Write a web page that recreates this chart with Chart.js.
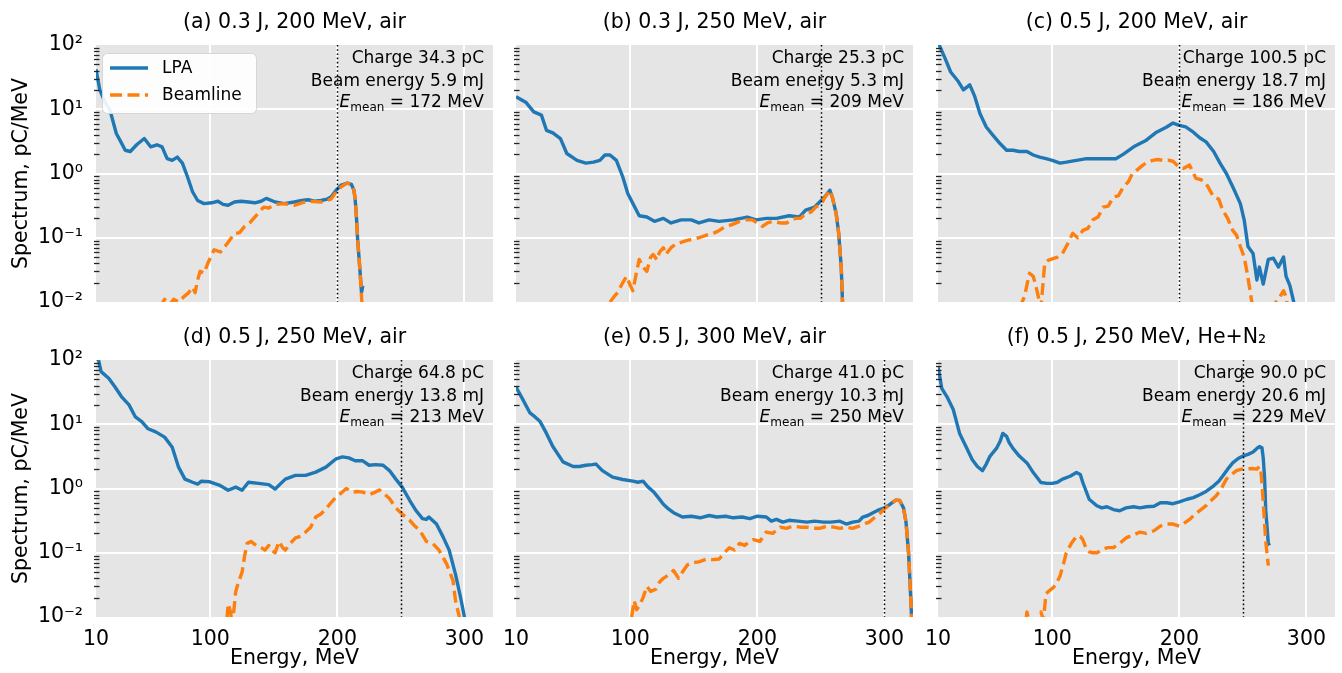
<!DOCTYPE html>
<html>
<head>
<meta charset="utf-8">
<script src="https://cdn.jsdelivr.net/npm/chart.js@4.4.1/dist/chart.umd.min.js"></script>
<style>
  html, body { margin: 0; padding: 0; background: #fff; width: 1342px; height: 673px; overflow: hidden; }
  canvas.panel { position: absolute; }
</style>
</head>
<body>
<script>
// ---- data (energy in MeV, spectrum in pC/MeV) ----
const lpaA_E = [10, 13, 17, 21, 26, 30, 33, 37, 42, 48, 53, 58, 62, 66, 70, 74, 78, 82, 86, 90, 95, 101, 106, 110, 114, 119, 124, 130, 135, 140, 144, 151, 158, 166, 172, 177, 182, 187, 192, 195, 199, 203, 208, 211, 213, 214, 215, 216, 217, 218, 219, 220];
const lpaA_S = [42, 20, 13, 9.7, 4.2, 3.0, 2.3, 2.2, 2.8, 3.5, 2.6, 2.8, 2.6, 1.7, 1.6, 1.8, 1.45, 0.89, 0.52, 0.38, 0.34, 0.35, 0.37, 0.33, 0.32, 0.36, 0.37, 0.36, 0.35, 0.37, 0.41, 0.36, 0.34, 0.36, 0.38, 0.39, 0.37, 0.38, 0.40, 0.43, 0.55, 0.66, 0.71, 0.68, 0.55, 0.40, 0.21, 0.09, 0.05, 0.027, 0.014, 0.018];
const beamA_E = [60, 64, 68, 71, 75, 79, 83, 86, 88, 90, 92, 95, 98, 103, 108, 113, 119, 123, 127, 131, 135, 142, 146, 151, 158, 166, 172, 177, 187, 195, 200, 203, 206, 208, 211, 213, 214, 215, 216, 217, 218, 219, 220];
const beamA_S = [0.008, 0.011, 0.009, 0.011, 0.010, 0.012, 0.014, 0.017, 0.014, 0.022, 0.03, 0.028, 0.04, 0.065, 0.06, 0.08, 0.116, 0.12, 0.15, 0.17, 0.21, 0.30, 0.29, 0.33, 0.34, 0.32, 0.35, 0.37, 0.36, 0.40, 0.55, 0.62, 0.68, 0.71, 0.68, 0.55, 0.40, 0.21, 0.09, 0.05, 0.027, 0.012, 0.006];

const lpaB_E = [10, 18, 24, 30, 34, 39, 45, 50, 58, 65, 71, 76, 80, 84, 89, 94, 98, 102, 107, 113, 119, 126, 132, 140, 148, 154, 162, 170, 181, 192, 199, 207, 215, 225, 233, 238, 245, 249, 253, 257, 259, 262, 264, 266, 267, 268];
const lpaB_S = [15.7, 12.7, 9.1, 8.1, 4.7, 4.3, 3.5, 2.05, 1.6, 1.45, 1.5, 1.6, 1.94, 1.94, 1.6, 0.89, 0.49, 0.34, 0.22, 0.21, 0.18, 0.2, 0.17, 0.19, 0.19, 0.17, 0.19, 0.18, 0.19, 0.21, 0.19, 0.2, 0.2, 0.22, 0.21, 0.27, 0.3, 0.36, 0.43, 0.55, 0.43, 0.24, 0.118, 0.035, 0.01, 0.005];
const beamB_E = [84, 87, 90, 94, 97, 100, 102, 105, 107, 110, 113, 116, 118, 121, 123, 126, 128, 132, 136, 140, 144, 149, 154, 160, 165, 170, 175, 180, 186, 191, 196, 200, 204, 208, 212, 218, 223, 227, 230, 234, 238, 242, 246, 250, 253, 257, 259, 262, 264, 266, 267, 268];
const beamB_S = [0.01, 0.012, 0.014, 0.02, 0.025, 0.018, 0.015, 0.03, 0.046, 0.035, 0.03, 0.05, 0.055, 0.045, 0.06, 0.07, 0.055, 0.07, 0.08, 0.085, 0.09, 0.095, 0.1, 0.11, 0.116, 0.13, 0.15, 0.16, 0.18, 0.19, 0.19, 0.17, 0.15, 0.17, 0.18, 0.17, 0.17, 0.19, 0.2, 0.2, 0.24, 0.25, 0.3, 0.33, 0.42, 0.55, 0.43, 0.24, 0.118, 0.035, 0.01, 0.005];

const lpaC_E = [10, 15, 20, 26, 30, 35, 39, 43, 48, 53, 59, 64, 69, 74, 80, 85, 90, 95, 100, 106, 111, 119, 127, 135, 143, 150, 156, 164, 174, 182, 190, 195, 200, 205, 211, 216, 221, 227, 232, 237, 242, 248, 251, 254, 258, 261, 263, 266, 270, 274, 278, 282, 284, 287, 290, 291];
const lpaC_S = [110, 66, 38, 27, 20, 24, 15.7, 8.6, 5.3, 4.0, 2.9, 2.3, 2.3, 2.2, 2.2, 1.94, 1.8, 1.7, 1.6, 1.45, 1.5, 1.6, 1.7, 1.7, 1.7, 1.7, 2.0, 2.6, 3.3, 4.4, 5.3, 6.1, 5.6, 5.3, 4.4, 3.6, 3.1, 2.2, 1.45, 1.0, 0.62, 0.34, 0.19, 0.073, 0.057, 0.022, 0.035, 0.019, 0.046, 0.048, 0.035, 0.05, 0.025, 0.018, 0.01, 0.006];
const beamC_E = [74, 78, 82, 85, 87, 89, 91, 94, 97, 100, 104, 108, 112, 116, 120, 124, 128, 132, 136, 140, 144, 148, 152, 156, 160, 163, 167, 171, 175, 179, 183, 187, 191, 195, 199, 203, 208, 213, 217, 221, 227, 231, 234, 238, 242, 245, 248, 251, 253, 255, 257, 259, 263, 270, 274, 278, 282, 284, 286];
const beamC_S = [0.008, 0.012, 0.028, 0.025, 0.018, 0.012, 0.008, 0.04, 0.045, 0.047, 0.05, 0.057, 0.08, 0.117, 0.1, 0.13, 0.14, 0.19, 0.21, 0.3, 0.31, 0.43, 0.45, 0.62, 0.75, 1.0, 1.15, 1.34, 1.5, 1.6, 1.65, 1.6, 1.62, 1.55, 1.3, 1.2, 1.35, 0.84, 0.8, 0.7, 0.43, 0.4, 0.27, 0.2, 0.13, 0.11, 0.073, 0.05, 0.031, 0.018, 0.01, 0.005, 0.003, 0.004, 0.009, 0.011, 0.015, 0.012, 0.006];

const lpaD_E = [10, 12, 14, 20, 25, 30, 36, 41, 46, 51, 57, 64, 70, 75, 80, 86, 90, 93, 99, 107, 114, 120, 125, 130, 138, 146, 151, 159, 167, 175, 183, 191, 199, 204, 209, 214, 220, 225, 230, 236, 241, 246, 251, 257, 262, 267, 270, 272, 278, 283, 288, 293, 297, 300, 302];
const lpaD_S = [110, 100, 66, 52, 38, 27, 20, 13, 11, 8.5, 7.6, 6.3, 4.4, 2.15, 1.4, 1.25, 1.17, 1.3, 1.28, 1.13, 0.94, 1.05, 0.94, 1.25, 1.2, 1.15, 0.98, 1.4, 1.6, 1.6, 1.8, 2.15, 2.9, 3.1, 3.0, 2.7, 2.7, 2.3, 2.35, 2.3, 1.9, 1.4, 1.05, 0.65, 0.45, 0.34, 0.33, 0.36, 0.28, 0.18, 0.11, 0.046, 0.02, 0.01, 0.006];
const beamD_E = [112, 114, 116, 117, 118, 120, 122, 125, 127, 129, 132, 136, 140, 143, 146, 148, 151, 154, 157, 159, 163, 167, 171, 175, 179, 183, 187, 191, 195, 199, 203, 207, 212, 216, 220, 225, 230, 233, 236, 241, 246, 251, 257, 261, 265, 270, 275, 280, 286, 291, 293, 296, 298];
const beamD_S = [0.005, 0.016, 0.012, 0.007, 0.01, 0.025, 0.034, 0.05, 0.09, 0.14, 0.15, 0.13, 0.12, 0.11, 0.13, 0.11, 0.1, 0.15, 0.12, 0.11, 0.14, 0.17, 0.18, 0.21, 0.25, 0.36, 0.4, 0.48, 0.6, 0.74, 0.85, 1.0, 0.88, 0.9, 0.88, 0.8, 0.88, 0.95, 0.85, 0.7, 0.5, 0.4, 0.32, 0.26, 0.22, 0.15, 0.14, 0.11, 0.067, 0.037, 0.018, 0.01, 0.006];

const lpaE_E = [10, 15, 21, 25, 29, 34, 39, 47, 55, 60, 65, 70, 73, 78, 86, 94, 102, 106, 110, 114, 118, 122, 126, 130, 134, 141, 148, 155, 162, 168, 175, 181, 188, 194, 200, 207, 211, 215, 220, 225, 232, 239, 245, 252, 258, 265, 270, 275, 280, 283, 287, 291, 295, 299, 304, 309, 312, 315, 317, 319, 320, 321, 322];
const lpaE_S = [38, 25, 15, 13, 11, 7.2, 4.5, 2.6, 2.2, 2.2, 2.3, 2.35, 2.4, 1.9, 1.5, 1.38, 1.3, 1.25, 1.3, 1.05, 0.9, 0.72, 0.57, 0.48, 0.42, 0.36, 0.37, 0.35, 0.38, 0.36, 0.37, 0.35, 0.36, 0.34, 0.37, 0.36, 0.31, 0.33, 0.3, 0.32, 0.31, 0.3, 0.31, 0.3, 0.3, 0.31, 0.28, 0.3, 0.31, 0.36, 0.38, 0.42, 0.46, 0.49, 0.56, 0.66, 0.65, 0.5, 0.3, 0.1, 0.04, 0.015, 0.005];
const beamE_E = [101, 103, 105, 107, 110, 113, 116, 120, 123, 126, 130, 134, 138, 141, 145, 149, 154, 160, 165, 170, 174, 178, 182, 186, 190, 194, 197, 202, 207, 212, 218, 223, 228, 234, 239, 244, 249, 255, 260, 265, 270, 275, 280, 284, 288, 292, 296, 299, 304, 309, 312, 315, 317, 319, 320, 321, 322];
const beamE_S = [0.01, 0.018, 0.013, 0.015, 0.02, 0.03, 0.025, 0.027, 0.035, 0.04, 0.045, 0.053, 0.04, 0.05, 0.065, 0.07, 0.072, 0.08, 0.078, 0.08, 0.1, 0.12, 0.11, 0.14, 0.13, 0.15, 0.16, 0.15, 0.21, 0.2, 0.25, 0.24, 0.26, 0.25, 0.25, 0.24, 0.24, 0.26, 0.25, 0.24, 0.25, 0.24, 0.26, 0.28, 0.3, 0.35, 0.4, 0.46, 0.56, 0.66, 0.65, 0.5, 0.3, 0.1, 0.04, 0.015, 0.005];

const lpaF_E = [10, 13, 17, 22, 27, 32, 37, 41, 45, 48, 51, 56, 59, 61, 64, 66, 69, 74, 80, 85, 91, 96, 100, 104, 108, 114, 119, 122, 124, 129, 135, 139, 143, 148, 153, 158, 164, 169, 174, 180, 185, 190, 195, 200, 206, 211, 216, 221, 227, 231, 234, 238, 242, 246, 250, 254, 258, 261, 263, 265, 266, 267, 268, 270, 271];
const lpaF_S = [79, 36, 27, 17, 7.2, 4.5, 2.8, 2.2, 1.9, 2.4, 3.2, 4.2, 5.5, 7.2, 6.5, 5.2, 4.2, 3.2, 2.5, 1.77, 1.24, 1.2, 1.2, 1.25, 1.4, 1.55, 1.77, 1.65, 1.24, 0.68, 0.54, 0.5, 0.52, 0.47, 0.45, 0.5, 0.52, 0.5, 0.52, 0.53, 0.6, 0.6, 0.58, 0.62, 0.68, 0.72, 0.8, 0.9, 1.1, 1.3, 1.55, 2.0, 2.5, 2.9, 3.2, 3.4, 3.7, 4.2, 4.5, 4.3, 3.0, 1.55, 0.46, 0.14, 0.13];
const beamF_E = [78, 80, 82, 83, 86, 89, 91, 93, 95, 98, 101, 104, 106, 109, 111, 115, 119, 122, 124, 127, 129, 132, 135, 139, 143, 148, 153, 158, 164, 169, 174, 180, 185, 190, 195, 200, 203, 208, 213, 217, 221, 225, 229, 233, 237, 241, 245, 249, 253, 257, 261, 263, 264, 265, 267, 268, 270];
const beamF_S = [0.005, 0.012, 0.008, 0.006, 0.004, 0.008, 0.012, 0.009, 0.023, 0.026, 0.029, 0.036, 0.043, 0.07, 0.1, 0.14, 0.18, 0.18, 0.16, 0.11, 0.103, 0.1, 0.1, 0.11, 0.12, 0.12, 0.14, 0.17, 0.19, 0.21, 0.2, 0.22, 0.26, 0.28, 0.28, 0.26, 0.28, 0.33, 0.41, 0.47, 0.54, 0.65, 0.77, 1.0, 1.4, 1.65, 1.9, 2.0, 2.0, 2.05, 2.0, 2.2, 2.0, 1.24, 0.3, 0.15, 0.063];

const panelTitles = ['(a) 0.3 J, 200 MeV, air', '(b) 0.3 J, 250 MeV, air', '(c) 0.5 J, 200 MeV, air',
                     '(d) 0.5 J, 250 MeV, air', '(e) 0.5 J, 300 MeV, air', '(f) 0.5 J, 250 MeV, He+N\u2082'];
const charges = ['34.3', '25.3', '100.5', '64.8', '41.0', '90.0'];
const beamEnergies = ['5.9', '5.3', '18.7', '13.8', '10.3', '20.6'];
const meanEnergies = ['172', '209', '186', '213', '250', '229'];
const markerEnergies = [200, 250, 200, 250, 300, 250];

const xTickValues = [10, 100, 200, 300];
const yTickValues = [0.01, 0.1, 1, 10, 100];
const yTickLabels = ['10\u207B\u00B2', '10\u207B\u00B9', '10\u2070', '10\u00B9', '10\u00B2'];

const lpaEnergy = [lpaA_E, lpaB_E, lpaC_E, lpaD_E, lpaE_E, lpaF_E];
const lpaSpectrum = [lpaA_S, lpaB_S, lpaC_S, lpaD_S, lpaE_S, lpaF_S];
const beamEnergy = [beamA_E, beamB_E, beamC_E, beamD_E, beamE_E, beamF_E];
const beamSpectrum = [beamA_S, beamB_S, beamC_S, beamD_S, beamE_S, beamF_S];

// ---- layout ----
const X_MIN = 10, X_MAX = 322.5;
const PLOT_LEFT = [96, 516, 938];
const PLOT_TOP = [45, 360];
const PLOT_W = 397, PLOT_H = 257;
const Y_AXIS_W = 87, X_AXIS_H = 58, PAD_TOP = 45, PAD_RIGHT = 8;

const BLUE = '#1f77b4', ORANGE = '#ff7f0e';
const FONT = '"DejaVu Sans", sans-serif';
const BIG = 20.5, SMALL = 17;
const LINE_W = 3.4;

Chart.defaults.font.family = FONT;
Chart.defaults.color = '#000';

function toPoints(xs, ys) {
    return xs.map((x, k) => ({ x: x, y: ys[k] }));
}

function panelDecor(i) {
    return {
        id: 'panelDecor',
        beforeDraw(chart) {
            const a = chart.chartArea, ctx = chart.ctx;
            ctx.save();
            ctx.fillStyle = '#e5e5e5';
            ctx.fillRect(a.left, a.top, a.right - a.left, a.bottom - a.top);
            ctx.restore();
        },
        afterDatasetsDraw(chart) {
            const a = chart.chartArea, ctx = chart.ctx;
            const xs = chart.scales.x;

            // dotted line at the nominal energy
            const xv = Math.round(xs.getPixelForValue(markerEnergies[i])) + 0.5;
            ctx.save();
            ctx.strokeStyle = '#000';
            ctx.lineWidth = 1.5;
            ctx.setLineDash([1.6, 2.6]);
            ctx.beginPath();
            ctx.moveTo(xv, a.top);
            ctx.lineTo(xv, a.bottom);
            ctx.stroke();
            ctx.restore();

            // beam parameters, top right
            const right = a.right - 9;
            ctx.save();
            ctx.fillStyle = '#000';
            ctx.textBaseline = 'alphabetic';
            ctx.textAlign = 'right';
            ctx.font = SMALL + 'px ' + FONT;
            ctx.fillText('Charge ' + charges[i] + ' pC', right, a.top + 18);
            ctx.fillText('Beam energy ' + beamEnergies[i] + ' mJ', right, a.top + 41);

            const rest = ' = ' + meanEnergies[i] + ' MeV';
            const wRest = ctx.measureText(rest).width;
            ctx.font = '12px ' + FONT;
            const wSub = ctx.measureText('mean').width;
            ctx.font = 'italic ' + SMALL + 'px ' + FONT;
            const wE = ctx.measureText('E').width;
            let x = right - wRest - wSub - wE;
            const base = a.top + 62;
            ctx.textAlign = 'left';
            ctx.fillText('E', x, base);
            x += wE;
            ctx.font = '12px ' + FONT;
            ctx.fillText('mean', x, base + 4);
            x += wSub;
            ctx.font = SMALL + 'px ' + FONT;
            ctx.fillText(rest, x, base);
            ctx.restore();

            if (i === 0) {
                // legend box
                const lx = a.left + 6, ly = a.top + 8;
                ctx.save();
                ctx.beginPath();
                ctx.roundRect(lx + 0.5, ly + 0.5, 154, 60, 5);
                ctx.fillStyle = 'rgba(255,255,255,0.9)';
                ctx.fill();
                ctx.strokeStyle = '#d6d6d6';
                ctx.lineWidth = 1;
                ctx.stroke();

                ctx.lineWidth = LINE_W;
                ctx.strokeStyle = BLUE;
                ctx.beginPath();
                ctx.moveTo(lx + 8, ly + 15);
                ctx.lineTo(lx + 46, ly + 15);
                ctx.stroke();
                ctx.strokeStyle = ORANGE;
                ctx.setLineDash([12, 5.5]);
                ctx.beginPath();
                ctx.moveTo(lx + 8, ly + 42);
                ctx.lineTo(lx + 46, ly + 42);
                ctx.stroke();
                ctx.setLineDash([]);

                ctx.fillStyle = '#000';
                ctx.font = SMALL + 'px ' + FONT;
                ctx.textAlign = 'left';
                ctx.textBaseline = 'middle';
                ctx.fillText('LPA', lx + 60, ly + 16);
                ctx.fillText('Beamline', lx + 60, ly + 43);
                ctx.restore();
            }
        },
        afterDraw(chart) {
            const a = chart.chartArea, ctx = chart.ctx;
            const ys = chart.scales.y;
            ctx.save();
            // minor ticks of the log axis
            ctx.strokeStyle = '#262626';
            ctx.lineWidth = 1.3;
            for (let d = -2; d < 2; d++) {
                for (let m = 2; m <= 9; m++) {
                    const py = Math.round(ys.getPixelForValue(m * Math.pow(10, d))) + 0.5;
                    ctx.beginPath();
                    ctx.moveTo(a.left - 2, py);
                    ctx.lineTo(a.left + 3.5, py);
                    ctx.stroke();
                }
            }
            // panel title
            ctx.fillStyle = '#000';
            ctx.font = BIG + 'px ' + FONT;
            ctx.textAlign = 'center';
            ctx.textBaseline = 'alphabetic';
            ctx.fillText(panelTitles[i], (a.left + a.right) / 2, a.top - 17);
            ctx.restore();
        }
    };
}

function makePanel(i) {
    const col = i % 3, row = Math.floor(i / 3);
    const canvas = document.createElement('canvas');
    canvas.className = 'panel';
    canvas.width = Y_AXIS_W + PLOT_W + PAD_RIGHT;
    canvas.height = PAD_TOP + PLOT_H + X_AXIS_H;
    canvas.style.left = (PLOT_LEFT[col] - Y_AXIS_W) + 'px';
    canvas.style.top = (PLOT_TOP[row] - PAD_TOP) + 'px';
    document.body.appendChild(canvas);

    return new Chart(canvas, {
        type: 'line',
        data: {
            datasets: [
                {
                    label: 'Beamline',
                    data: toPoints(beamEnergy[i], beamSpectrum[i]),
                    borderColor: ORANGE,
                    borderWidth: LINE_W,
                    borderDash: [12, 5.5],
                    borderJoinStyle: 'round',
                    pointRadius: 0,
                    fill: false,
                    clip: 0,
                    order: 0
                },
                {
                    label: 'LPA',
                    data: toPoints(lpaEnergy[i], lpaSpectrum[i]),
                    borderColor: BLUE,
                    borderWidth: LINE_W,
                    borderJoinStyle: 'round',
                    pointRadius: 0,
                    fill: false,
                    clip: 0,
                    order: 1
                }
            ]
        },
        options: {
            responsive: false,
            animation: false,
            devicePixelRatio: 1,
            events: [],
            layout: { padding: { top: PAD_TOP, right: PAD_RIGHT, left: 0, bottom: 0 } },
            plugins: { legend: { display: false }, tooltip: { enabled: false } },
            scales: {
                x: {
                    type: 'linear',
                    min: X_MIN,
                    max: X_MAX,
                    afterBuildTicks: s => { s.ticks = xTickValues.map(v => ({ value: v })); },
                    afterFit: s => { s.height = X_AXIS_H; },
                    border: { display: false },
                    grid: {
                        color: ctx => (ctx.tick && ctx.tick.value === X_MIN) ? 'rgba(0,0,0,0)' : '#ffffff',
                        lineWidth: 2,
                        drawTicks: false
                    },
                    ticks: {
                        display: row === 1,
                        padding: 10,
                        maxRotation: 0,
                        autoSkip: false,
                        font: { size: BIG },
                        color: '#000',
                        callback: v => String(v)
                    },
                    title: {
                        display: row === 1,
                        text: 'Energy, MeV',
                        font: { size: BIG },
                        color: '#000',
                        padding: { top: 0, bottom: 4 }
                    }
                },
                y: {
                    type: 'logarithmic',
                    min: 0.01,
                    max: 100,
                    afterBuildTicks: s => { s.ticks = yTickValues.map(v => ({ value: v, major: true })); },
                    afterFit: s => { s.width = Y_AXIS_W; },
                    border: { display: false },
                    grid: {
                        color: ctx => (ctx.tick && (ctx.tick.value === 0.01 || ctx.tick.value === 100)) ? 'rgba(0,0,0,0)' : '#ffffff',
                        lineWidth: 2,
                        drawTicks: false
                    },
                    ticks: {
                        display: col === 0,
                        padding: 13,
                        font: { size: BIG },
                        color: '#000',
                        callback: v => {
                            const k = yTickValues.findIndex(t => Math.abs(Math.log10(t) - Math.log10(v)) < 1e-6);
                            return k >= 0 ? yTickLabels[k] : '';
                        }
                    },
                    title: {
                        display: col === 0,
                        text: 'Spectrum, pC/MeV',
                        font: { size: BIG },
                        color: '#000',
                        padding: 0
                    }
                }
            }
        },
        plugins: [panelDecor(i)]
    });
}

for (let i = 0; i < 6; i++) {
    makePanel(i);
}
</script>
</body>
</html>
